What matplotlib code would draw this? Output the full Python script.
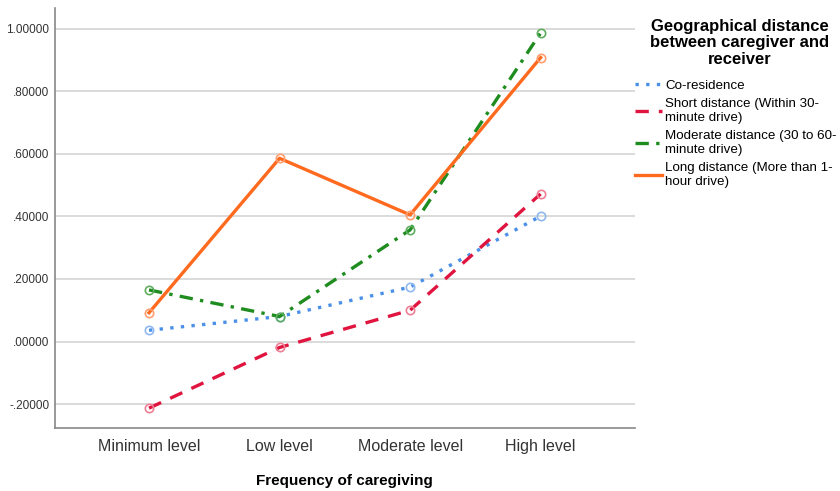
import matplotlib.pyplot as plt
from matplotlib.ticker import FuncFormatter

plt.rcParams['font.family'] = ['Liberation Sans', 'DejaVu Sans']

levels = ['Minimum level', 'Low level', 'Moderate level', 'High level']
co_residence = [0.036, 0.080, 0.174, 0.401]
short_dist = [-0.213, -0.019, 0.100, 0.472]
moderate_dist = [0.165, 0.080, 0.357, 0.987]
long_dist = [0.092, 0.586, 0.405, 0.908]

series = [
    ('Co-residence', co_residence, '#4a90e8', (0, (1, 2.2)), '#8fb8f0'),
    ('Short distance (Within 30-\nminute drive)', short_dist, '#e0153f', (0, (4, 3)), '#ee7f95'),
    ('Moderate distance (30 to 60-\nminute drive)', moderate_dist, '#1f8c1f', (0, (4, 2.2, 1, 2.2)), '#5fae5f'),
    ('Long distance (More than 1-\nhour drive)', long_dist, '#ff6a1f', '-', '#ff9f70'),
]

fig = plt.figure(figsize=(8.4, 4.91), dpi=100)
ax = fig.add_axes([0.0655, 0.128, 0.69, 0.856])

x = list(range(len(levels)))
for name, vals, color, ls, mcol in series:
    ax.plot(x, vals, color=color, linestyle=ls, linewidth=2.4, label=name,
            marker='o', markersize=6, markerfacecolor='none',
            markeredgecolor=mcol, markeredgewidth=1.2)

ax.set_xlim(-0.72, 3.72)
ax.set_ylim(-0.277, 1.067)
ax.set_yticks([-0.2, 0.0, 0.2, 0.4, 0.6, 0.8, 1.0])
ax.yaxis.set_major_formatter(FuncFormatter(
    lambda v, p: ('%.5f' % v).replace('0.', '.', 1) if abs(v) < 1 else '%.5f' % v))
ax.set_xticks(x)
ax.set_xticklabels(levels)
ax.tick_params(axis='x', length=0, labelsize=11.5, colors='#333333', pad=8)
ax.tick_params(axis='y', length=0, labelsize=8.5, colors='#333333', pad=4)
ax.grid(axis='y', color='#d4d4d4', linewidth=1.2)
ax.set_axisbelow(True)
for s in ['top', 'right']:
    ax.spines[s].set_visible(False)
for s in ['left', 'bottom']:
    ax.spines[s].set_color('#888888')
    ax.spines[s].set_linewidth(1.2)

ax.set_xlabel('Frequency of caregiving', fontsize=11, fontweight='bold', labelpad=14)

fig.text(0.881, 0.962, 'Geographical distance\nbetween caregiver and\nreceiver',
         ha='center', va='top', fontsize=12, fontweight='bold', linespacing=1.15)
leg = ax.legend(loc='upper left', bbox_to_anchor=(0.992, 0.843), frameon=False,
                fontsize=9.6, handlelength=2.0, handletextpad=0.25,
                labelspacing=0.5, borderaxespad=0)
for t in leg.get_texts():
    t.set_linespacing(1.15)
for h in leg.legend_handles:
    h.set_marker('')

fig.savefig('out.png', dpi=100)
